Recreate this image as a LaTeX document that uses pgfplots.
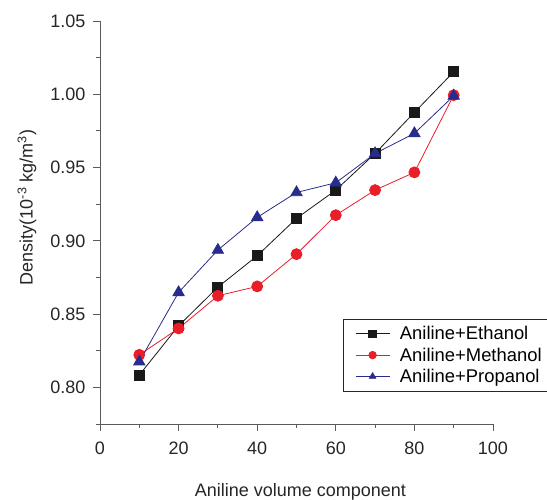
\documentclass[border=0pt]{standalone}
\usepackage{fontspec}
\setmainfont{Liberation Sans}
\usepackage{pgfplots}
\pgfplotsset{compat=1.18}
\definecolor{cred}{RGB}{232,30,40}
\definecolor{cblue}{RGB}{40,44,140}
\definecolor{axgray}{RGB}{90,90,90}
\begin{document}
\begin{tikzpicture}[x=1pt,y=1pt]
\path[use as bounding box] (-100pt,-76pt) rectangle (447pt,424pt);
\begin{axis}[
  at={(0pt,0pt)}, anchor=origin,
  scale only axis,
  width=393pt, height=403pt,
  xmin=0, xmax=100, ymin=0.775, ymax=1.05,
  axis lines*=left,
  axis line style={axgray, line width=0.9pt},
  every tick/.style={axgray, line width=0.9pt},
  tick align=outside,
  major tick length=7pt, minor tick length=4pt,
  xtick={0,20,40,60,80,100},
  minor xtick={10,30,50,70,90},
  ytick={0.80,0.85,0.90,0.95,1.00,1.05},
  minor ytick={0.775,0.825,0.875,0.925,0.975,1.025},
  yticklabel style={/pgf/number format/fixed,/pgf/number format/fixed zerofill,/pgf/number format/precision=2, xshift=-4pt},
  /pgf/number format/assume math mode=true,
  tick label style={font=\fontsize{18}{21}\selectfont, text=black!85},
  xticklabel style={yshift=-7pt},
  xlabel={Aniline volume component},
  ylabel={Density(10\textsuperscript{-3} kg/m\textsuperscript{3})},
  label style={font=\fontsize{18}{21}\selectfont, text=black!85},
  xlabel style={at={(axis description cs:0.51,-0.169)}, anchor=center},
  ylabel style={at={(axis description cs:-0.186,0.537)}, anchor=center},
  clip=false,
  legend cell align=left,
  legend style={at={(0.618,0.2605)}, anchor=north west, draw=black!85, line width=0.7pt,
    font=\fontsize{18.4}{22}\selectfont, row sep=2.5pt, inner xsep=12pt, inner ysep=5pt},
  legend image code/.code={
    \draw[mark repeat=2, mark phase=2, #1, line width=0.7pt, mark size=3.8pt]
      plot coordinates {(0pt,0pt) (17pt,0pt) (34pt,0pt)};
    \path (42pt,0pt);
  },
]
\addplot[black!90, line width=0.8pt, mark=square*, mark size=5pt, mark options={fill=black!90}]
coordinates {(10,0.8084) (20,0.842) (30,0.8684) (40,0.8898) (50,0.9153) (60,0.9346) (70,0.9596) (80,0.9876) (90,1.0153)};
\addlegendentry{Aniline+Ethanol}
\addplot[cred, line width=0.8pt, mark=*, mark size=5.5pt, mark options={fill=cred}]
coordinates {(10,0.8222) (20,0.8402) (30,0.8625) (40,0.8689) (50,0.8909) (60,0.9175) (70,0.9346) (80,0.9467) (90,0.9994)};
\addlegendentry{Aniline+Methanol}
\addplot[cblue, line width=0.8pt, mark=triangle*, mark size=6.5pt, mark options={fill=cblue}]
coordinates {(10,0.8175) (20,0.8648) (30,0.8937) (40,0.916) (50,0.933) (60,0.9396) (70,0.9596) (80,0.9733) (90,0.9989)};
\addlegendentry{Aniline+Propanol}
\end{axis}
\end{tikzpicture}
\end{document}
